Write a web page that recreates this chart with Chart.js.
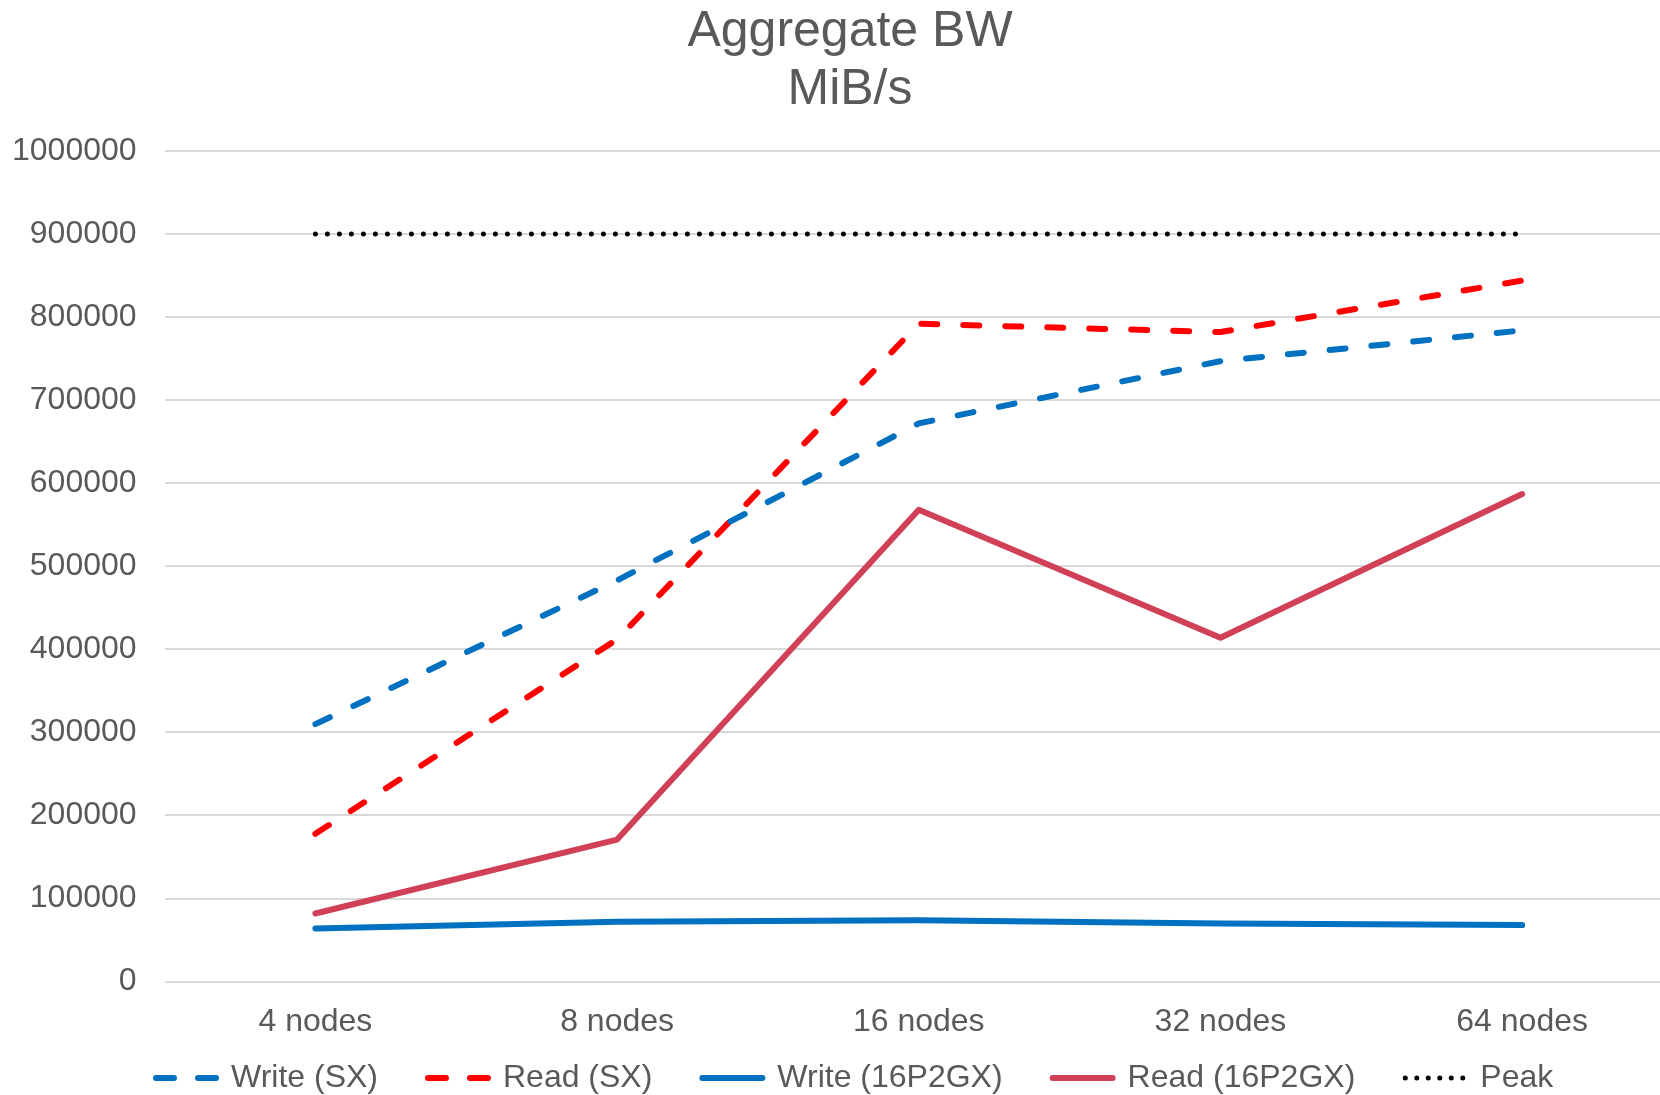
<!DOCTYPE html>
<html lang="en">
<head>
    <meta charset="UTF-8">
    <title>Aggregate BW</title>
    <script src="https://cdn.jsdelivr.net/npm/chart.js"></script>
    <style>
        html, body { margin: 0; padding: 0; background: #ffffff; }
        .chart-container { width: 1660px; height: 1095px; }
    </style>
</head>
<body>
    <div class="chart-container">
        <canvas id="chart"></canvas>
    </div>
    <script>
        const categories = ['4 nodes', '8 nodes', '16 nodes', '32 nodes', '64 nodes'];
        const writeSX = [310000, 483000, 672000, 747000, 784000];
        const readSX = [178000, 412000, 792000, 782000, 844000];
        const write16P2GX = [64000, 72000, 74000, 70000, 68000];
        const read16P2GX = [82000, 171000, 568000, 414000, 587000];
        const peak = [900000, 900000, 900000, 900000, 900000];
        const yTicks = [0, 100000, 200000, 300000, 400000, 500000, 600000, 700000, 800000, 900000, 1000000];
        const titleLines = ['Aggregate BW', 'MiB/s'];

        const textColor = '#595959';
        const font = 'Liberation Sans, Arial, sans-serif';

        // x is a linear axis over the category index so the last slot can run past the canvas edge like the original
        function series(label, data, color, dash) {
            return {
                label: label,
                data: data.map((v, i) => ({ x: i, y: v })),
                borderColor: color,
                backgroundColor: color,
                borderWidth: 6,
                borderDash: dash,
                borderCapStyle: 'round',
                borderJoinStyle: 'round',
                pointRadius: 0,
                fill: false,
                tension: 0
            };
        }

        const peakSet = series('Peak', peak, '#000000', [0, 12]);
        peakSet.borderWidth = 5;

        // title and legend drawn by hand: title is off-centre in the original, legend samples keep their dashes
        const decorations = {
            id: 'decorations',
            afterDraw(chart) {
                const ctx = chart.ctx;
                ctx.save();
                ctx.fillStyle = textColor;
                ctx.textBaseline = 'middle';

                ctx.font = '50px ' + font;
                ctx.textAlign = 'center';
                titleLines.forEach((t, i) => ctx.fillText(t, 850, 32 + i * 58));

                const y = 1078;
                const sampleW = 66, gapText = 12, gapItem = 47;
                let x = 153;
                ctx.font = '32px ' + font;
                ctx.textAlign = 'left';
                chart.data.datasets.forEach(ds => {
                    ctx.strokeStyle = ds.borderColor;
                    ctx.lineWidth = ds.borderWidth;
                    ctx.lineCap = 'round';
                    ctx.setLineDash(ds.borderDash.length ? (ds.label === 'Peak' ? [0, 11.5] : [18, 24]) : []);
                    ctx.beginPath();
                    ctx.moveTo(x + 3, y);
                    ctx.lineTo(x + sampleW - 3, y);
                    ctx.stroke();
                    ctx.setLineDash([]);
                    ctx.fillText(ds.label, x + sampleW + gapText, y);
                    x += sampleW + gapText + ctx.measureText(ds.label).width + gapItem;
                });
                ctx.restore();
            }
        };

        new Chart(document.getElementById('chart').getContext('2d'), {
            type: 'line',
            data: {
                datasets: [
                    series('Write (SX)', writeSX, '#0070C0', [16, 26]),
                    series('Read (SX)', readSX, '#FF0000', [16, 26]),
                    series('Write (16P2GX)', write16P2GX, '#0070C0', []),
                    series('Read (16P2GX)', read16P2GX, '#D04158', []),
                    peakSet
                ]
            },
            options: {
                responsive: true,
                maintainAspectRatio: false,
                animation: false,
                layout: { padding: { left: -16, right: 0, top: 151, bottom: 33 } },
                plugins: {
                    title: { display: false },
                    legend: { display: false },
                    tooltip: { enabled: false }
                },
                scales: {
                    x: {
                        type: 'linear',
                        min: -0.5,
                        max: 4.457,
                        afterBuildTicks: axis => { axis.ticks = categories.map((c, i) => ({ value: i })); },
                        grid: { display: false, drawTicks: false },
                        border: { display: false },
                        ticks: {
                            color: textColor,
                            font: { family: font, size: 32 },
                            padding: 21,
                            maxRotation: 0,
                            autoSkip: false,
                            callback: v => categories[v]
                        }
                    },
                    y: {
                        min: 0,
                        max: 1000000,
                        afterBuildTicks: axis => { axis.ticks = yTicks.map(v => ({ value: v })); },
                        grid: { color: '#D9D9D9', lineWidth: 2, drawTicks: false },
                        border: { display: false },
                        ticks: {
                            color: textColor,
                            font: { family: font, size: 32 },
                            padding: 28,
                            callback: v => String(v)
                        }
                    }
                }
            },
            plugins: [decorations]
        });
    </script>
</body>
</html>
